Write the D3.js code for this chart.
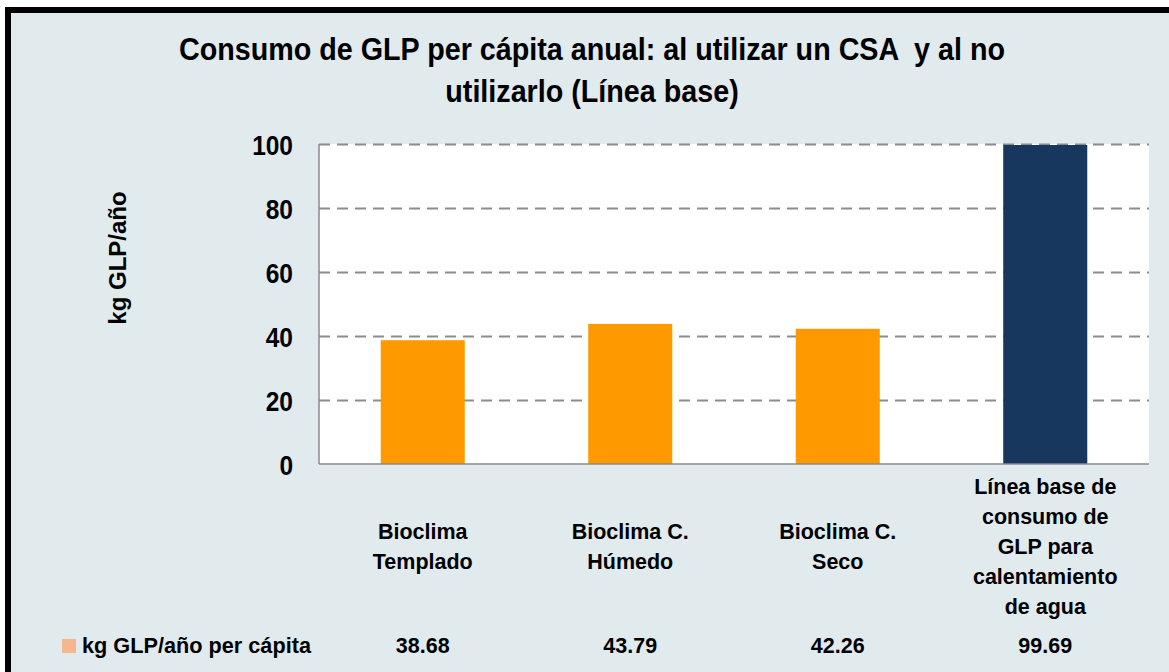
<!DOCTYPE html>
<html>
<head>
<meta charset="utf-8">
<script src="https://cdn.jsdelivr.net/npm/d3@7"></script>
<style>
  html, body { margin: 0; padding: 0; background: #ffffff; }
  svg { display: block; }
  text { font-family: "Liberation Sans", Arial, sans-serif; font-weight: bold; fill: #000; white-space: pre; }
</style>
</head>
<body>
<svg id="chart" width="1169" height="672"></svg>
<script>
// Chart data
const categories = [
  ["Bioclima", "Templado"],
  ["Bioclima C.", "Húmedo"],
  ["Bioclima C.", "Seco"],
  ["Línea base de", "consumo de", "GLP para", "calentamiento", "de agua"]
];
const values = [38.68, 43.79, 42.26, 99.69];
const barColors = ["#FF9900", "#FF9900", "#FF9900", "#17375E"];
const yTicks = [0, 20, 40, 60, 80, 100];
const titleLines = ["Consumo de GLP per cápita anual: al utilizar un CSA  y al no", "utilizarlo (Línea base)"];
const yTitle = "kg GLP/año";
const tableLabel = "kg GLP/año per cápita";

const svg = d3.select("#chart");
const W = 1169, H = 672;

// Frame: light background with a thick black border
svg.append("rect")
  .attr("x", 8).attr("y", 10)
  .attr("width", W + 40).attr("height", H + 40)
  .attr("fill", "#E1EAED")
  .attr("stroke", "#000").attr("stroke-width", 6);

const plot = { left: 319, right: 1149, top: 144, bottom: 464 };

const x = d3.scaleBand()
  .domain(d3.range(categories.length))
  .range([plot.left, plot.right])
  .paddingInner(0.595)
  .paddingOuter(0.2975);

const y = d3.scaleLinear().domain([0, 100]).range([plot.bottom, plot.top]);

// Plot area
svg.append("rect")
  .attr("x", plot.left).attr("y", plot.top)
  .attr("width", plot.right - plot.left).attr("height", plot.bottom - plot.top)
  .attr("fill", "#ffffff");

// Dashed gridlines
const grid = d3.axisLeft(y).tickValues(yTicks.filter(d => d > 0))
  .tickSize(-(plot.right - plot.left)).tickFormat("");
const gg = svg.append("g").attr("transform", `translate(${plot.left},0)`).call(grid);
gg.select(".domain").remove();
gg.selectAll(".tick line")
  .attr("stroke", "#8C8C8C").attr("stroke-width", 2.2)
  .attr("stroke-dasharray", "11,7");

// Bars
svg.append("g").selectAll("rect")
  .data(values)
  .join("rect")
  .attr("x", (d, i) => x(i))
  .attr("y", d => y(d))
  .attr("width", x.bandwidth())
  .attr("height", d => y(0) - y(d))
  .attr("fill", (d, i) => barColors[i]);

// Axis lines
svg.append("line")
  .attr("x1", plot.left).attr("x2", plot.left)
  .attr("y1", plot.top).attr("y2", plot.bottom)
  .attr("stroke", "#8A8A8A").attr("stroke-width", 1.5);
svg.append("line")
  .attr("x1", plot.left).attr("x2", plot.right)
  .attr("y1", plot.bottom).attr("y2", plot.bottom)
  .attr("stroke", "#8A8A8A").attr("stroke-width", 1.5);

// Y tick labels (slightly tall glyphs)
svg.append("g").selectAll("text")
  .data(yTicks)
  .join("text")
  .attr("transform", d => `translate(293,${y(d) + 11}) scale(1,1.14)`)
  .attr("text-anchor", "end")
  .attr("font-size", 24.5)
  .text(d => d);

// Y axis title
svg.append("text")
  .attr("transform", `translate(126,258) rotate(-90)`)
  .attr("text-anchor", "middle")
  .attr("font-size", 24)
  .text(yTitle);

// Title
svg.append("g").selectAll("text")
  .data(titleLines)
  .join("text")
  .attr("transform", (d, i) => `translate(592,${60 + i * 42}) scale(1,1.07)`)
  .attr("text-anchor", "middle")
  .attr("font-size", 28.7)
  .text(d => d);

// Category labels (data table header), vertically centred
const lineH = 30, midY = 554;
categories.forEach((lines, i) => {
  const cx = x(i) + x.bandwidth() / 2;
  const y0 = midY - (lines.length - 1) * lineH / 2;
  svg.append("g").selectAll("text")
    .data(lines)
    .join("text")
    .attr("x", cx)
    .attr("y", (d, j) => y0 + j * lineH)
    .attr("text-anchor", "middle")
    .attr("font-size", 21.5)
    .text(d => d);
});

// Data table row
svg.append("rect")
  .attr("x", 62).attr("y", 639).attr("width", 14).attr("height", 14)
  .attr("fill", "#F9B68E");
svg.append("text")
  .attr("x", 82).attr("y", 653)
  .attr("font-size", 21.7)
  .text(tableLabel);
svg.append("g").selectAll("text")
  .data(values)
  .join("text")
  .attr("x", (d, i) => x(i) + x.bandwidth() / 2)
  .attr("y", 653)
  .attr("text-anchor", "middle")
  .attr("font-size", 21.5)
  .text(d => d.toFixed(2));
</script>
</body>
</html>
